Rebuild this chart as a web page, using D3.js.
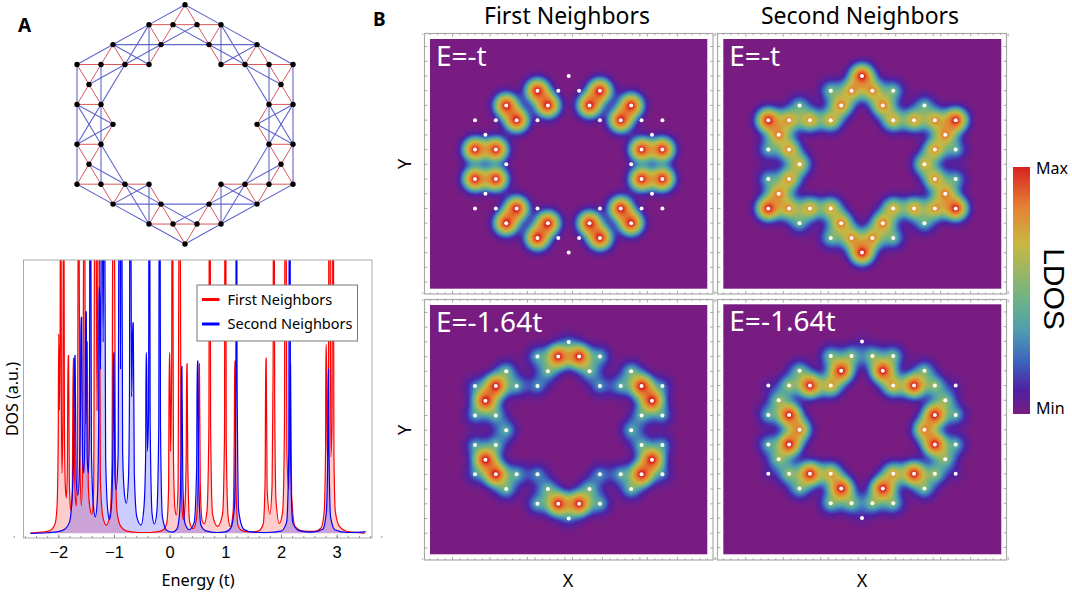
<!DOCTYPE html>
<html>
<head>
<meta charset="utf-8">
<script src="https://cdn.jsdelivr.net/npm/d3@7"></script>
<style>
  html, body { margin: 0; background: #fff; }
  svg { display: block; font-family: "Noto Sans", "Open Sans", sans-serif; }
</style>
</head>
<body>
<svg id="fig" width="1072" height="594"></svg>
<script>
// lattice sites, one list of columns per row
const siteRows = [-6, -5, -4, -3, -2, -1, 0, 1, 2, 3, 4, 5, 6]
const siteCols = [
  [0],
  [-3, -1, 1, 3],
  [-6, -2, 2, 6],
  [-9, -7, -5, -3, 3, 5, 7, 9],
  [-8, 8],
  [-9, -7, 7, 9],
  [-6, 6],
  [-9, -7, 7, 9],
  [-8, 8],
  [-9, -7, -5, -3, 3, 5, 7, 9],
  [-6, -2, 2, 6],
  [-3, -1, 1, 3],
  [0]
]

// LDOS weight per site, same order as siteCols
const weightsFirstT = [
  [0],
  [1, 0, 0, 1],
  [1, 1, 1, 1],
  [0, 0, 1, 0, 0, 1, 0, 0],
  [0, 0],
  [1, 1, 1, 1],
  [0, 0],
  [1, 1, 1, 1],
  [0, 0],
  [0, 0, 1, 0, 0, 1, 0, 0],
  [1, 1, 1, 1],
  [1, 0, 0, 1],
  [0]
]
const weightsSecondT = [
  [1],
  [.3, .6, .6, .3],
  [.25, .65, .65, .25],
  [1, .6, .6, .55, .55, .6, .6, 1],
  [.62, .62],
  [.25, .6, .6, .25],
  [.5, .5],
  [.25, .6, .6, .25],
  [.62, .62],
  [1, .6, .6, .55, .55, .6, .6, 1],
  [.25, .65, .65, .25],
  [.3, .6, .6, .3],
  [1]
]
const weightsFirst164 = [
  [.12],
  [.25, 1, 1, .25],
  [.27, .27, .27, .27],
  [.15, 1, .25, .2, .2, .25, 1, .15],
  [1, 1],
  [.2, .25, .25, .2],
  [.25, .25],
  [.2, .25, .25, .2],
  [1, 1],
  [.15, 1, .25, .2, .2, .25, 1, .15],
  [.27, .27, .27, .27],
  [.25, 1, 1, .25],
  [.12]
]
const weightsSecond164 = [
  [.04],
  [.3, .32, .32, .3],
  [.28, 1, 1, .28],
  [.05, .35, 1, .55, .55, 1, .35, .05],
  [.32, .32],
  [.25, 1, 1, .25],
  [.65, .65],
  [.25, 1, 1, .25],
  [.32, .32],
  [.05, .35, 1, .55, .55, 1, .35, .05],
  [.28, 1, 1, .28],
  [.3, .32, .32, .3],
  [.04]
]

// DOS curves: [energy, dos], dos 100 = top of the frame
const firstDos = [
  [-2.5, .1], [-2.3, .4], [-2.15, 1], [-2.06, 3.4], [-2.025, 9], [-2.003, 30], [-1.992, 73], [-1.98, 45],
  [-1.968, 70], [-1.96, 130], [-1.952, 130], [-1.945, 50], [-1.934, 22], [-1.918, 40], [-1.908, 130], [-1.9, 130],
  [-1.89, 40], [-1.875, 18], [-1.856, 13], [-1.838, 22], [-1.826, 65], [-1.816, 65], [-1.802, 20], [-1.785, 10],
  [-1.772, 8.3], [-1.75, 14], [-1.733, 64], [-1.722, 64], [-1.705, 20], [-1.69, 12], [-1.677, 10], [-1.655, 30],
  [-1.64, 130], [-1.63, 130], [-1.612, 28], [-1.587, 10], [-1.56, 28], [-1.54, 130], [-1.528, 130], [-1.51, 40],
  [-1.496, 50], [-1.489, 70], [-1.48, 70], [-1.462, 18], [-1.43, 9], [-1.395, 7], [-1.365, 16], [-1.345, 130],
  [-1.325, 130], [-1.305, 45], [-1.295, 70], [-1.285, 130], [-1.265, 130], [-1.245, 20], [-1.2, 6], [-1.138, 3],
  [-1.07, 7], [-1.035, 26], [-1.02, 130], [-.995, 130], [-.975, 30], [-.946, 8], [-.886, 2.8], [-.766, .8],
  [-.55, .3], [-.35, .3], [-.2, .6], [-.108, 1.4], [-.05, 4], [-.02, 16], [-.006, 66], [.004, 66],
  [.016, 30], [.036, 60], [.044, 130], [.054, 130], [.068, 28], [.095, 9], [.12, 6.7], [.15, 16],
  [.172, 130], [.188, 130], [.205, 22], [.23, 7], [.25, 5], [.275, 10], [.298, 30], [.305, 62],
  [.314, 62], [.325, 26], [.36, 4], [.42, 1.7], [.48, 5], [.515, 24], [.525, 62], [.534, 62],
  [.55, 18], [.58, 5], [.62, 3.5], [.67, 8], [.705, 40], [.712, 130], [.728, 130], [.735, 40],
  [.77, 7], [.86, 2.5], [.95, 7], [.985, 36], [.993, 130], [1.008, 130], [1.016, 34], [1.05, 6],
  [1.09, 2.5], [1.14, 8], [1.162, 40], [1.168, 63], [1.176, 63], [1.188, 20], [1.225, 3], [1.3, 1],
  [1.45, .5], [1.6, .9], [1.68, 3.4], [1.715, 20], [1.725, 64], [1.734, 64], [1.75, 16], [1.8, 7],
  [1.84, 18], [1.858, 60], [1.864, 130], [1.878, 130], [1.886, 50], [1.91, 12], [1.97, 3.6], [2.03, 8],
  [2.062, 40], [2.072, 130], [2.09, 130], [2.105, 30], [2.14, 16], [2.163, 62], [2.172, 62], [2.19, 14],
  [2.25, 2.5], [2.4, .8], [2.6, .7], [2.72, 2], [2.775, 8], [2.8, 30], [2.806, 69], [2.815, 69],
  [2.83, 28], [2.848, 28], [2.862, 130], [2.878, 130], [2.895, 28], [2.915, 40], [2.924, 130], [2.94, 130],
  [2.95, 30], [2.975, 8], [3.05, 2.5], [3.2, .6], [3.5, .1]
]
const secondDos = [
  [-2.5, 0], [-2.2, .2], [-2, .6], [-1.88, 1.6], [-1.8, 4], [-1.755, 12], [-1.725, 30], [-1.708, 65],
  [-1.698, 65], [-1.68, 20], [-1.647, 14], [-1.62, 24], [-1.6, 50], [-1.594, 79], [-1.582, 79], [-1.565, 28],
  [-1.54, 22], [-1.52, 42], [-1.51, 81], [-1.498, 81], [-1.482, 28], [-1.46, 22], [-1.44, 40], [-1.432, 130],
  [-1.418, 130], [-1.405, 30], [-1.37, 10], [-1.335, 6], [-1.3, 12], [-1.275, 40], [-1.27, 90], [-1.258, 90],
  [-1.24, 60], [-1.224, 130], [-1.21, 130], [-1.195, 70], [-1.182, 130], [-1.168, 130], [-1.15, 28], [-1.11, 8],
  [-1.078, 5], [-1.04, 12], [-1.015, 40], [-1.01, 66], [-1, 66], [-.985, 22], [-.96, 16], [-.925, 30],
  [-.908, 130], [-.89, 130], [-.883, 60], [-.877, 130], [-.86, 130], [-.845, 30], [-.81, 14], [-.778, 11],
  [-.74, 20], [-.722, 50], [-.714, 130], [-.7, 130], [-.683, 50], [-.664, 77], [-.654, 77], [-.635, 22],
  [-.59, 6], [-.515, 3], [-.46, 10], [-.43, 30], [-.424, 66], [-.414, 66], [-.4, 30], [-.378, 45],
  [-.372, 130], [-.358, 130], [-.35, 40], [-.315, 7], [-.275, 3.4], [-.23, 8], [-.195, 40], [-.188, 130],
  [-.172, 130], [-.165, 40], [-.13, 6], [-.05, 1], [.05, .4], [.13, 1.5], [.18, 8], [.205, 30],
  [.21, 61], [.22, 61], [.235, 20], [.27, 4], [.35, 1.3], [.44, 4], [.485, 24], [.495, 63],
  [.505, 63], [.52, 20], [.56, 3], [.65, .9], [.85, .3], [1, .5], [1.1, 2], [1.165, 10],
  [1.19, 60], [1.194, 130], [1.206, 130], [1.21, 60], [1.24, 8], [1.33, 1.5], [1.5, .4], [1.75, .3],
  [2, .8], [2.1, 4], [2.14, 30], [2.147, 130], [2.163, 130], [2.17, 30], [2.21, 4], [2.32, 1],
  [2.55, .4], [2.75, 1.5], [2.815, 8], [2.84, 30], [2.846, 60], [2.854, 60], [2.862, 30], [2.89, 6],
  [2.97, 1.2], [3.2, .3], [3.5, .5], [3.52, .6]
]

const energyLabels = [-2, -1, 0, 1, 2, 3]
const energyMinor = d3.range(-2.8, 3.81, .2)

const panels = [
  { label: 'E=-t', weights: weightsFirstT, frame: [424.5, 33.5, 713, 294], plot: [430, 39, 707.3, 288.7], cx: 568.7, cy: 164.3 },
  { label: 'E=-t', weights: weightsSecondT, frame: [717.5, 33.5, 1006.5, 294], plot: [723.3, 39, 1001.3, 288.7], cx: 862, cy: 164.3 },
  { label: 'E=-1.64t', weights: weightsFirst164, frame: [424.5, 299.5, 713, 560], plot: [430, 305, 707.3, 554.3], cx: 568.7, cy: 430.2 },
  { label: 'E=-1.64t', weights: weightsSecond164, frame: [717.5, 299.5, 1006.5, 560], plot: [723.3, 304.3, 1001.3, 554.3], cx: 862, cy: 429.7 }
]

const rainbowStops = [0, .1, .21, .34, .46, .69, .84, 1]
const rainbowColors = ['#781c81', '#4d22a4', '#3e62bd', '#4f9eb0', '#6cb387', '#c8b842', '#e68032', '#d92120']
// how the summed site field maps onto the colour bar
const fieldLevels = [0, .03, .087, .147, .28, .4, .61, .88, 1]
const barLevels = [0, .04, .11, .21, .42, .6, .78, .92, 1]

const svg = d3.select('#fig')
const sites = siteCols.flatMap((cols, k) => cols.map(c => ({ c, r: siteRows[k] })))

// A: hopping network ----------------------------------------------------
const netX = d3.scaleLinear().domain([-9, 9]).range([77, 293])
const netY = d3.scaleLinear().domain([-6, 6]).range([4.7, 244])
const siteAt = new Set(sites.map(s => s.c + ',' + s.r))
const links = []
sites.forEach((a, i) => sites.slice(i + 1).forEach(b => {
  const dc = Math.abs(a.c - b.c), dr = Math.abs(a.r - b.r)
  const first = (dc == 2 && dr == 0) || (dc == 1 && dr == 1)
  // long links that pass through another site lie under the red ones
  const long = ((dc == 4 && dr == 0) || (dc == 2 && dr == 2)) && !siteAt.has((a.c + b.c) / 2 + ',' + (a.r + b.r) / 2)
  const second = (dc == 3 && dr == 1) || (dc == 0 && dr == 2) || long
  if (first || second) links.push({ a, b, first })
}))
const net = svg.append('g')
net.selectAll('line')
  .data(links.sort((p, q) => p.first - q.first))
  .join('line')
  .attr('x1', d => netX(d.a.c)).attr('y1', d => netY(d.a.r))
  .attr('x2', d => netX(d.b.c)).attr('y2', d => netY(d.b.r))
  .attr('stroke', d => d.first ? '#d9585c' : '#6267cc')
  .attr('stroke-width', d => d.first ? 1 : 1.1)
net.selectAll('circle')
  .data(sites)
  .join('circle')
  .attr('cx', d => netX(d.c)).attr('cy', d => netY(d.r))
  .attr('r', 2.7).attr('fill', '#000')

// A: density of states ---------------------------------------------------
const dosX = d3.scaleLinear().domain([-2, 3]).range([58.3, 336.7])
const dosY = d3.scaleLinear().domain([0, 100]).range([533.3, 260])
const frameL = 23.5, frameR = 372, frameT = 260, frameB = 538

svg.append('clipPath').attr('id', 'dosClip').append('rect')
  .attr('x', frameL).attr('y', frameT).attr('width', frameR - frameL).attr('height', frameB - frameT)
const dosG = svg.append('g').attr('clip-path', 'url(#dosClip)')
const dosArea = d3.area().x(d => dosX(d[0])).y0(dosY(0)).y1(d => dosY(d[1])).curve(d3.curveMonotoneX)
const dosLine = d3.line().x(d => dosX(d[0])).y(d => dosY(d[1])).curve(d3.curveMonotoneX)
const series = [{ v: firstDos, c: '#ff0000' }, { v: secondDos, c: '#0000ff' }]
dosG.selectAll('path.fill').data(series).join('path').attr('class', 'fill')
  .attr('d', d => dosArea(d.v)).attr('fill', d => d.c).attr('fill-opacity', .2)
dosG.selectAll('path.line').data(series).join('path').attr('class', 'line')
  .attr('d', d => dosLine(d.v)).attr('fill', 'none').attr('stroke', d => d.c).attr('stroke-width', 1.2)

svg.append('rect').attr('x', frameL).attr('y', frameT)
  .attr('width', frameR - frameL).attr('height', frameB - frameT)
  .attr('fill', 'none').attr('stroke', '#aaa').attr('stroke-width', 1)

const dosAxis = svg.append('g').attr('transform', `translate(0,${frameB})`)
  .call(d3.axisBottom(dosX).tickValues(energyMinor).tickSize(-2).tickFormat(''))
dosAxis.select('.domain').remove()
dosAxis.selectAll('line').attr('stroke', '#999')
const dosMajor = svg.append('g').attr('transform', `translate(0,${frameB})`)
  .call(d3.axisBottom(dosX).tickValues(energyLabels).tickSize(-3.5).tickPadding(8)
    .tickFormat(d => d < 0 ? '\u2212' + (-d) : d))
dosMajor.select('.domain').remove()
dosMajor.selectAll('line').attr('stroke', '#888')
dosMajor.selectAll('text').attr('fill', '#000').attr('font-size', 16.5).attr('font-family', 'inherit')

svg.append('text').attr('x', 198).attr('y', 586).attr('text-anchor', 'middle')
  .attr('font-size', 16.3).text('Energy (t)')
svg.append('text').attr('transform', 'translate(17.5,399) rotate(-90)').attr('text-anchor', 'middle')
  .attr('font-size', 16).text('DOS (a.u.)')

// legend
const legend = svg.append('g')
legend.append('rect').attr('x', 197).attr('y', 285).attr('width', 160.5).attr('height', 56)
  .attr('fill', '#fff').attr('stroke', '#777').attr('stroke-width', 1)
const legendItems = [{ t: 'First Neighbors', c: '#ff0000', y: 299.5 }, { t: 'Second Neighbors', c: '#0000ff', y: 324 }]
legend.selectAll('line').data(legendItems).join('line')
  .attr('x1', 202).attr('x2', 219.5).attr('y1', d => d.y).attr('y2', d => d.y)
  .attr('stroke', d => d.c).attr('stroke-width', 3)
legend.selectAll('text').data(legendItems).join('text')
  .attr('x', 227.5).attr('y', d => d.y + 5).attr('font-size', 14.5).text(d => d.t)

// B: LDOS maps -----------------------------------------------------------
const color = d3.scaleLinear().domain(rainbowStops).range(rainbowColors).clamp(true)
const tone = d3.scaleLinear().domain(fieldLevels).range(barLevels).clamp(true)
const levels = d3.range(.01, 1.001, 1 / 80)
const unitX = 10.41, unitY = 14.72, wide = 7.6, narrow = 2.8, cell = 2

panels.forEach(p => {
  const [fx0, fy0, fx1, fy1] = p.frame
  const [px0, py0, px1, py1] = p.plot
  const g = svg.append('g')
  const x = d3.scaleLinear().domain([-1, 1]).range([p.cx - unitX, p.cx + unitX])
  const y = d3.scaleLinear().domain([-1, 1]).range([p.cy - unitY, p.cy + unitY])

  g.append('rect').attr('x', fx0).attr('y', fy0).attr('width', fx1 - fx0).attr('height', fy1 - fy0)
    .attr('fill', '#fff').attr('stroke', '#aaa').attr('stroke-width', 1.2)

  // frame ticks
  const topTicks = d3.range(-14.04, 14.05, .72)
  const sideTicks = d3.range(-8, 8.01, 1)
  const tk = g.append('g').attr('stroke', '#888').attr('stroke-width', .7)
  tk.selectAll('.tx').data(topTicks).join('path').attr('class', 'tx')
    .attr('d', d => {
      const len = Math.abs(Math.round(d / .72)) % 5 == 0 ? 3 : 1.6
      return `M${x(d)},${fy0}v${len}M${x(d)},${fy1}v${-len}`
    })
  tk.selectAll('.ty').data(sideTicks).join('path').attr('class', 'ty')
    .attr('d', d => `M${fx0},${y(d)}h3M${fx1},${y(d)}h-3`)

  g.append('rect').attr('x', px0).attr('y', py0).attr('width', px1 - px0).attr('height', py1 - py0)
    .attr('fill', rainbowColors[0])

  // field on a coarse grid, filled as stacked contours
  const nx = Math.ceil((px1 - px0) / cell), ny = Math.ceil((py1 - py0) / cell)
  const weighted = siteCols.flatMap((cols, k) => cols.map((c, j) => ({ sx: x(c), sy: y(siteRows[k]), w: p.weights[k][j] })))
    .filter(s => s.w > 0)
  const values = new Array(nx * ny)
  for (let j = 0; j < ny; j++) {
    for (let i = 0; i < nx; i++) {
      const wx = px0 + (i + .5) * cell, wy = py0 + (j + .5) * cell
      let f = 0
      weighted.forEach(s => {
        const d2 = (wx - s.sx) ** 2 + (wy - s.sy) ** 2
        f += s.w * (.8 * Math.exp(-d2 / (2 * wide * wide)) + .25 * Math.exp(-d2 / (2 * narrow * narrow)))
      })
      values[j * nx + i] = f
    }
  }
  const contours = d3.contours().size([nx, ny]).thresholds(levels)(values)
  g.append('g').attr('transform', `translate(${px0},${py0}) scale(${cell})`)
    .selectAll('path').data(contours).join('path')
    .attr('d', d3.geoPath()).attr('fill', d => color(tone(d.value)))

  // site markers
  g.selectAll('circle').data(sites).join('circle')
    .attr('cx', d => x(d.c)).attr('cy', d => y(d.r)).attr('r', 2).attr('fill', '#fff')

  g.append('text').attr('x', px0 + 6).attr('y', py0 + 27).attr('fill', '#fff')
    .attr('font-size', 28).text(p.label)
})

// titles and axis letters
svg.append('text').attr('x', 567).attr('y', 24).attr('text-anchor', 'middle').attr('font-size', 23).text('First Neighbors')
svg.append('text').attr('x', 860).attr('y', 24).attr('text-anchor', 'middle').attr('font-size', 23).text('Second Neighbors')
svg.append('text').attr('x', 18).attr('y', 32).attr('text-anchor', 'start').attr('font-size', 19).attr('font-weight', 700).text('A')
svg.append('text').attr('x', 373).attr('y', 26).attr('text-anchor', 'start').attr('font-size', 19).attr('font-weight', 700).text('B')
const yLabels = [164, 430]
svg.selectAll('.ylab').data(yLabels).join('text').attr('class', 'ylab')
  .attr('transform', d => `translate(411,${d}) rotate(-90)`).attr('text-anchor', 'middle').attr('font-size', 18).text('Y')
const xLabels = [568, 862]
svg.selectAll('.xlab').data(xLabels).join('text').attr('class', 'xlab')
  .attr('x', d => d).attr('y', 587).attr('text-anchor', 'middle').attr('font-size', 18).text('X')

// colour bar
const barGrad = svg.append('linearGradient').attr('id', 'barGrad')
  .attr('x1', 0).attr('y1', 1).attr('x2', 0).attr('y2', 0)
barGrad.selectAll('stop').data(rainbowStops).join('stop')
  .attr('offset', d => d).attr('stop-color', d => color(d))
svg.append('rect').attr('x', 1013).attr('y', 167).attr('width', 17).attr('height', 247).attr('fill', 'url(#barGrad)')
svg.append('text').attr('x', 1036).attr('y', 174).attr('font-size', 16).text('Max')
svg.append('text').attr('x', 1036).attr('y', 414).attr('font-size', 16).text('Min')
svg.append('text').attr('transform', 'translate(1044,289) rotate(90)').attr('text-anchor', 'middle')
  .attr('font-family', '"Liberation Sans"').attr('font-size', 30).text('LDOS')
</script>
</body>
</html>
